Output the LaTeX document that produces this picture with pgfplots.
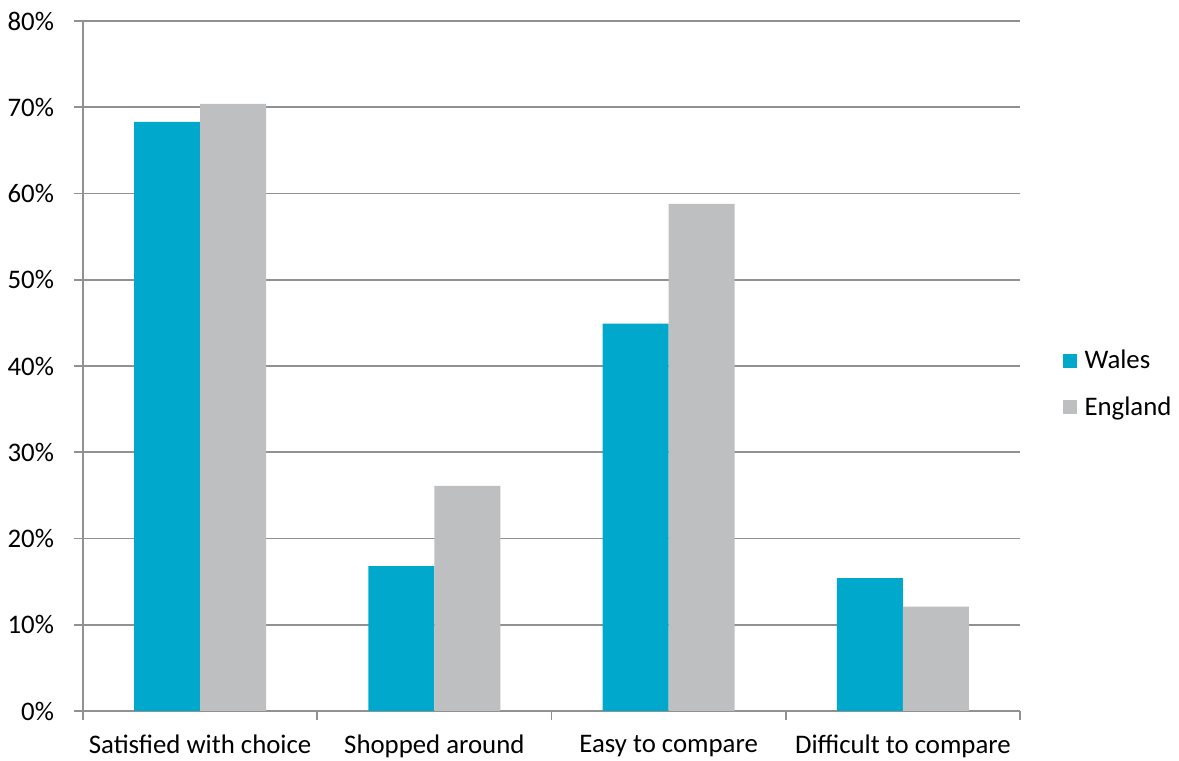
\documentclass[border=0pt]{standalone}
\usepackage{pgfplots}
\pgfplotsset{compat=1.18}
\usepackage{fontspec}
\setmainfont{Carlito}
\usetikzlibrary{calc}

\definecolor{wales}{RGB}{0,169,204}
\definecolor{england}{RGB}{190,191,193}
\definecolor{gridgray}{RGB}{145,145,145}

\begin{document}
\begin{tikzpicture}
\begin{axis}[
  name=ax,
  scale only axis,
  width=468.5pt, height=345pt,
  xmin=-0.5, xmax=3.5,
  ymin=0, ymax=80,
  ybar=0pt, bar width=33pt,
  axis lines*=left,
  axis line style={draw=gridgray, line width=0.9pt},
  xtick={-0.5,0.5,1.5,2.5,3.5},
  x tick label as interval=true,
  xticklabels={Satisfied with choice, Shopped around, Easy to compare, Difficult to compare},
  ytick={0,10,...,80},
  yticklabel={\pgfmathprintnumber{\tick}\%},
  /pgf/number format/assume math mode=true,
  tick align=outside,
  major tick length=4.5pt,
  tick style={draw=gridgray, line width=0.9pt},
  ymajorgrids=true,
  grid style={draw=gridgray, line width=0.9pt},
  tick label style={font=\fontsize{13.4}{16}\selectfont, text=black},
  xticklabel style={yshift=-4pt},
  yticklabel style={xshift=-6.5pt},
  legend style={
    at={(1.045,0.474)}, anchor=west, draw=none, fill=none,
    font=\fontsize{13.4}{16}\selectfont, row sep=8.5pt,
    inner sep=0pt, legend cell align=left,
    nodes={inner xsep=4pt},
  },
  legend image code/.code={\fill[#1] (0pt,-3.5pt) rectangle (7pt,3.5pt);},
]
\addplot[fill=wales, draw=none] coordinates {(0,68.3) (1,16.8) (2,44.9) (3,15.4)};
\addplot[fill=england, draw=none] coordinates {(0,70.4) (1,26.1) (2,58.8) (3,12.1)};
\legend{Wales, England}
\end{axis}
\pgfresetboundingbox
\path ($(ax.south west)+(-41.5pt,-25pt)$) rectangle ($(ax.north east)+(79.5pt,10.5pt)$);
\end{tikzpicture}
\end{document}
